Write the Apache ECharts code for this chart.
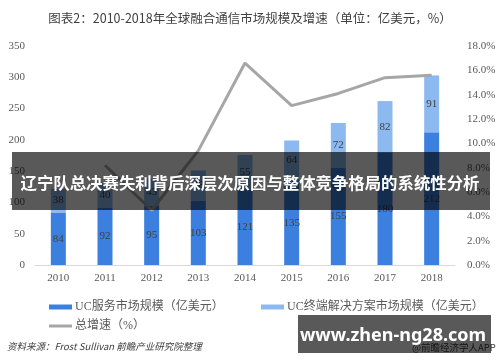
<!DOCTYPE html>
<html><head><meta charset="utf-8">
<script src="https://cdn.jsdelivr.net/npm/echarts@6/dist/echarts.min.js"></script>
<style>html,body{margin:0;padding:0;background:#fff}#c{width:500px;height:362px}</style>
</head><body><div id="c"></div>
<script>
var years = ['2010','2011','2012','2013','2014','2015','2016','2017','2018'];
var serviceVals = [84, 92, 95, 103, 121, 135, 155, 180, 212];
var terminalVals = [38, 40, 43, 48, 55, 64, 72, 82, 91];
var growthVals = [null, 8.2, 4.5, 9.4, 16.6, 13.1, 14.1, 15.4, 15.6];
var leftTicks = {min: 0, max: 350, interval: 50};
var rightTicks = {min: 0, max: 18, interval: 2};

var FONT = '"Liberation Serif","Noto Sans CJK SC",serif';
var chart = echarts.init(document.getElementById('c'));
var lineData = growthVals.map(function (v, i) {
  if (v === null) return '-';
  var item = {value: v};
  if (i === 2) item.label = {position: 'bottom', distance: 3};
  if (i === 4) item.label = {distance: 14};
  return item;
});
chart.setOption({
  animation: false,
  title: {
    text: '图表2：2010-2018年全球融合通信市场规模及增速（单位：亿美元，%）',
    left: 'center', top: 7,
    textStyle: {fontFamily: '"Noto Sans CJK SC",sans-serif', fontSize: 12.5, fontWeight: 'normal', color: '#404040'}
  },
  grid: {left: 35, right: 45, top: 46, bottom: 97},
  legend: [
    {left: 44, top: 296, itemWidth: 23, itemHeight: 5, itemGap: 0,
     textStyle: {fontFamily: FONT, fontSize: 12, color: '#595959', padding: [0,0,0,-2]},
     data: [{name: 'UC服务市场规模（亿美元）', icon: 'rect'}]},
    {left: 256, top: 296, itemWidth: 23, itemHeight: 5, itemGap: 0,
     textStyle: {fontFamily: FONT, fontSize: 12, color: '#595959', padding: [0,0,0,-2]},
     data: [{name: 'UC终端解决方案市场规模（亿美元）', icon: 'rect'}]},
    {left: 44, top: 315, itemWidth: 23, itemHeight: 3, itemGap: 0,
     textStyle: {fontFamily: FONT, fontSize: 12, color: '#595959', padding: [0,0,0,-2]},
     data: [{name: '总增速（%）', icon: 'rect'}]}
  ],
  xAxis: {
    type: 'category', data: years,
    axisLine: {lineStyle: {color: '#D9D9D9'}},
    axisTick: {show: false},
    axisLabel: {fontFamily: FONT, fontSize: 11, color: '#595959', margin: 8}
  },
  yAxis: [
    {type: 'value', min: leftTicks.min, max: leftTicks.max, interval: leftTicks.interval,
     splitLine: {show: false}, axisLine: {show: false}, axisTick: {show: false},
     axisLabel: {fontFamily: FONT, fontSize: 11, color: '#595959', margin: 10}},
    {type: 'value', min: rightTicks.min, max: rightTicks.max, interval: rightTicks.interval,
     splitLine: {show: false}, axisLine: {show: false}, axisTick: {show: false},
     axisLabel: {fontFamily: FONT, fontSize: 11, color: '#595959', margin: 12,
       formatter: function (v) { return v.toFixed(1) + '%'; }}}
  ],
  series: [
    {name: 'UC服务市场规模（亿美元）', type: 'bar', stack: 's', barWidth: 15,
     data: serviceVals, itemStyle: {color: '#3B80DE'},
     label: {show: true, position: 'inside', fontFamily: FONT, fontSize: 11, color: '#404040'}},
    {name: 'UC终端解决方案市场规模（亿美元）', type: 'bar', stack: 's', barWidth: 15,
     data: terminalVals, itemStyle: {color: '#8DB9F1'},
     label: {show: true, position: 'inside', fontFamily: FONT, fontSize: 11, color: '#404040'}},
    {name: '总增速（%）', type: 'line', yAxisIndex: 1, data: lineData,
     showSymbol: false, symbol: 'none', z: 5,
     lineStyle: {color: '#A6A6A6', width: 3}, itemStyle: {color: '#A6A6A6'},
     label: {show: true, position: 'top', distance: 7, fontFamily: FONT, fontSize: 11, color: '#404040',
       formatter: function (p) { return p.value.toFixed(1) + '%'; }}}
  ],
  graphic: [
    {type: 'text', left: 7, top: 342, z: 10,
     style: {text: '资料来源：Frost Sullivan 前瞻产业研究院整理', fontFamily: '"Noto Sans CJK SC",sans-serif', fontStyle: 'italic', fontSize: 9.5, fill: '#404040'}},
    {type: 'text', left: 412, top: 343, z: 10,
     style: {text: '@前瞻经济学人APP', fontFamily: '"Noto Sans CJK SC",sans-serif', fontSize: 9.5, fill: '#404040'}},
    {type: 'rect', shape: {x: 12, y: 152, width: 478, height: 58}, z: 20,
     style: {fill: 'rgba(0,0,0,0.65)'}},
    {type: 'text', x: 250, y: 183, z: 21,
     style: {text: '辽宁队总决赛失利背后深层次原因与整体竞争格局的系统性分析', fontFamily: '"Noto Sans CJK SC",sans-serif', fontWeight: 'bold', fontSize: 16.4, fill: '#fff', align: 'center', verticalAlign: 'middle'}},
    {type: 'rect', shape: {x: 298, y: 315, width: 193, height: 38}, z: 20,
     style: {fill: 'rgba(0,0,0,0.65)'}},
    {type: 'text', x: 393, y: 336, z: 21,
     style: {text: 'www.zhen-ng28.com', fontFamily: '"Noto Sans",sans-serif', fontWeight: 'bold', fontSize: 18, fill: '#fff', align: 'center', verticalAlign: 'middle'}}
  ]
});
</script></body></html>
